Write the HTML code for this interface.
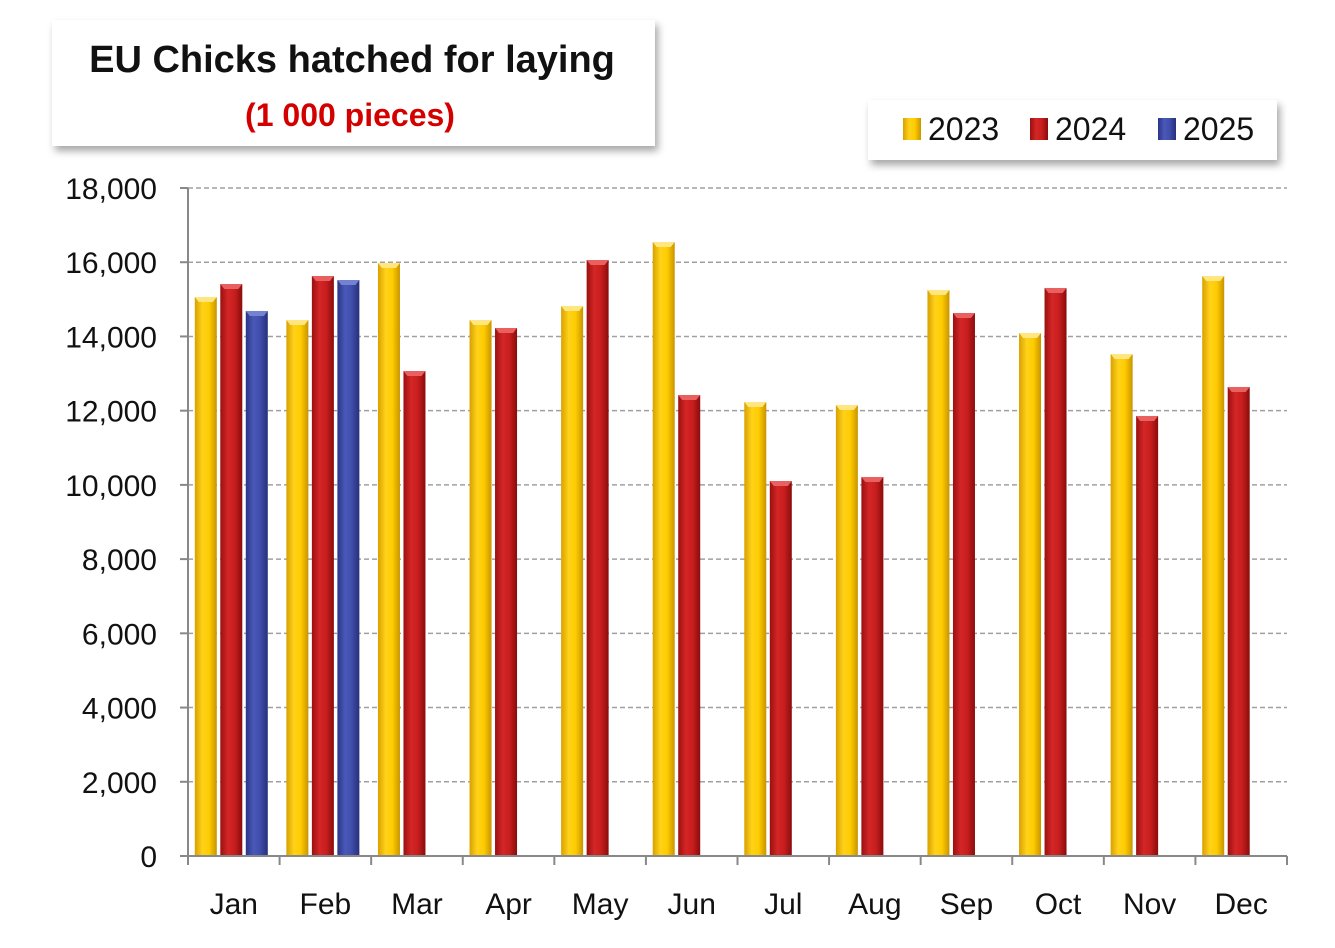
<!DOCTYPE html>
<html><head><meta charset="utf-8">
<style>
body{margin:0;background:#fff;width:1335px;height:943px;overflow:hidden;font-family:"Liberation Sans",sans-serif}
</style></head>
<body>
<svg id="chart" width="1335" height="943" xmlns="http://www.w3.org/2000/svg">
<defs>
<linearGradient id="gY" x1="0" x2="1"><stop offset="0" stop-color="#d9a000"/><stop offset="0.35" stop-color="#ffd21a"/><stop offset="0.65" stop-color="#ffcc00"/><stop offset="1" stop-color="#c99400"/></linearGradient>
<linearGradient id="gR" x1="0" x2="1"><stop offset="0" stop-color="#9a1010"/><stop offset="0.35" stop-color="#d42626"/><stop offset="0.65" stop-color="#c81e1e"/><stop offset="1" stop-color="#8a0c0c"/></linearGradient>
<linearGradient id="gB" x1="0" x2="1"><stop offset="0" stop-color="#2a3585"/><stop offset="0.35" stop-color="#4a58b8"/><stop offset="0.65" stop-color="#3f4dab"/><stop offset="1" stop-color="#26307a"/></linearGradient>
<filter id="sh" x="-10%" y="-10%" width="130%" height="140%"><feDropShadow dx="3" dy="5" stdDeviation="4" flood-color="#000" flood-opacity="0.35"/></filter>
</defs>
<g id="grid"></g>
<g id="bars"></g>
<g id="axes"></g>
<rect x="52" y="20" width="603" height="126" fill="#fff" filter="url(#sh)"/>
<text x="352" y="72" text-anchor="middle" font-size="38" font-weight="bold" fill="#111">EU Chicks hatched for laying</text>
<text x="350" y="126" text-anchor="middle" font-size="32" font-weight="bold" fill="#d40000">(1 000 pieces)</text>
<rect x="868" y="100" width="409" height="60" fill="#fff" filter="url(#sh)"/>
<g id="legend"></g>
</svg>
<script>
const categories=["Jan","Feb","Mar","Apr","May","Jun","Jul","Aug","Sep","Oct","Nov","Dec"];
const seriesNames=["2023","2024","2025"];
const values2023=[15063,14443,15980,14443,14821,16545,12234,12153,15252,14093,13527,15629];
const values2024=[15413,15629,13069,14228,16060,12422,10105,10213,14632,15306,11857,12638];
const values2025=[14686,15521,null,null,null,null,null,null,null,null,null,null];
const yTicks=[0,2000,4000,6000,8000,10000,12000,14000,16000,18000];
const NS="http://www.w3.org/2000/svg";
const x0=188,x1=1287,y0=856,y1=188,yMax=18000;
const band=(x1-x0)/categories.length;
const y=v=>y0-(v/yMax)*(y0-y1);
const xc=i=>x0+band*(i+0.5);
function mk(tag,at,parent){const e=document.createElementNS(NS,tag);for(const k in at)e.setAttribute(k,at[k]);parent.appendChild(e);return e;}
const grid=document.getElementById('grid'),bars=document.getElementById('bars'),axes=document.getElementById('axes'),legend=document.getElementById('legend');
yTicks.forEach(t=>{
  if(t>0){const l=mk('line',{x1:x0,x2:x1,y1:y(t),y2:y(t),stroke:'#a0a0a0','stroke-width':1.5,'stroke-dasharray':'5,3'},grid);
  
  }
  const tk=mk('line',{x1:x0-8,x2:x0,y1:y(t),y2:y(t),stroke:'#888','stroke-width':2},axes);
  
  
  const tx=mk('text',{x:157,y:y(t)+11,'text-anchor':'end','font-size':30,fill:'#111'},axes);
  tx.textContent=t.toLocaleString('en-US');
  
  
});
const ya=mk('line',{x1:x0,x2:x0,y1:y1,y2:y0,stroke:'#888','stroke-width':2},axes);


const xa=mk('line',{x1:x0,x2:x1,y1:y0,y2:y0,stroke:'#888','stroke-width':2},axes);


for(let i=0;i<=categories.length;i++){
  const tk=mk('line',{x1:x0+band*i,x2:x0+band*i,y1:y0,y2:y0+9,stroke:'#888','stroke-width':2},axes);
  
  
}
categories.forEach((c,i)=>{
  const tx=mk('text',{x:xc(i),y:914,'text-anchor':'middle','font-size':30,fill:'#111'},axes);
  tx.textContent=c;
  
  
});
const series=[values2023,values2024,values2025],fills=['url(#gY)','url(#gR)','url(#gB)'],caps=['#ffe680','#e86060','#7482d0'];
const bw=22,step=25.5;
series.forEach((vals,s)=>vals.forEach((v,i)=>{
  if(v==null)return;
  const cx=xc(i)+(s-1)*step-2.5, top=y(v);
  const r=mk('rect',{x:cx-bw/2,y:top,width:bw,height:y0-top,fill:fills[s]},bars);
  
  
  const p=mk('polygon',{points:`${cx-bw/2},${top} ${cx+bw/2},${top} ${cx+bw/2-4},${top+5} ${cx-bw/2+4},${top+5}`,fill:caps[s]},bars);
  
  
}));
const lx=[903,1030,1158];
seriesNames.forEach((n,s)=>{
  const r=mk('rect',{x:lx[s],y:118,width:18,height:22,fill:fills[s]},legend);
  
  
  const t=mk('text',{x:lx[s]+25,y:140,'font-size':32,fill:'#111'},legend);
  t.textContent=n;
  
  
});
</script>
</body></html>
